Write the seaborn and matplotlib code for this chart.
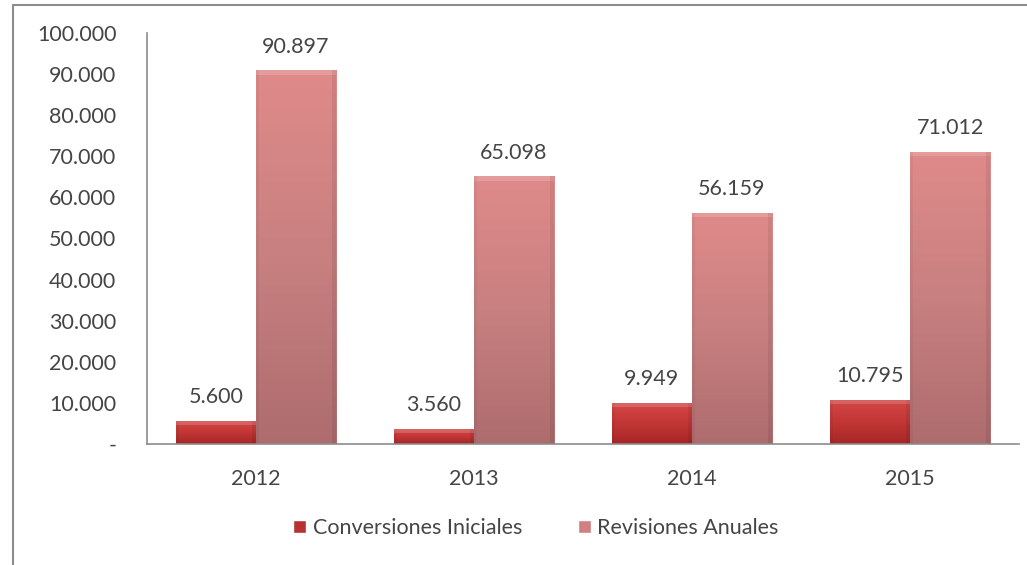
import numpy as np
import pandas as pd
import matplotlib
matplotlib.use("Agg")
import matplotlib.pyplot as plt
import seaborn as sns
from matplotlib.colors import LinearSegmentedColormap
from matplotlib.patches import Rectangle

years = ["2012", "2013", "2014", "2015"]
conversiones = [5600, 3560, 9949, 10795]
revisiones = [90897, 65098, 56159, 71012]
series_names = ["Conversiones Iniciales", "Revisiones Anuales"]
ytick_values = list(range(0, 100001, 10000))

df = pd.DataFrame({
    "year": years * 2,
    "value": conversiones + revisiones,
    "serie": [series_names[0]] * 4 + [series_names[1]] * 4,
})

sns.set_theme(style="white")
plt.rcParams["font.family"] = ["Lato", "DejaVu Sans"]

fig = plt.figure(figsize=(10.27, 5.65), dpi=100)
ax = fig.add_axes([147 / 1027, 1 - 444 / 565, (1019 - 147) / 1027, (444 - 33) / 565])

palette = {series_names[0]: "#c03434", series_names[1]: "#d08080"}
sns.barplot(data=df, x="year", y="value", hue="serie", palette=palette,
            width=0.734, ax=ax, legend=False, saturation=1, linewidth=0)

# vertical gradients for each series
grads = {
    series_names[0]: LinearSegmentedColormap.from_list("g0", ["#a82626", "#c23636", "#d44848"]),
    series_names[1]: LinearSegmentedColormap.from_list("g1", ["#ae6c6e", "#c88080", "#e08a8a"]),
}
ordered = [series_names[0]] * 4 + [series_names[1]] * 4
for patch, name in zip(ax.patches, ordered):
    x0, y0 = patch.get_x(), patch.get_y()
    w, h = patch.get_width(), patch.get_height()
    z = patch.get_zorder()
    grad = np.linspace(0, 1, 256).reshape(-1, 1)
    im = ax.imshow(grad, cmap=grads[name], origin="lower", aspect="auto",
                   extent=[x0, x0 + w, y0, y0 + h], zorder=z + 0.1)
    im.set_clip_path(patch)
    # soft bevel: light rim along the top, darker rim on the sides
    ax.add_patch(Rectangle((x0, y0 + h - 1000), w, 1000,
                           facecolor="white", alpha=0.16, linewidth=0, zorder=z + 0.2))
    ax.add_patch(Rectangle((x0 + w * 0.95, y0), w * 0.05, h,
                           facecolor="black", alpha=0.07, linewidth=0, zorder=z + 0.2))
    ax.add_patch(Rectangle((x0, y0), w * 0.04, h,
                           facecolor="black", alpha=0.04, linewidth=0, zorder=z + 0.2))

ax.set_xlim(-0.5, 3.5)
ax.set_ylim(0, 100000)
ax.set_xlabel("")
ax.set_ylabel("")

txt = "#454545"
fs = 15.5
ax.set_yticks(ytick_values)
ax.set_yticklabels(["-" if v == 0 else f"{v:,}".replace(",", ".") for v in ytick_values],
                   fontsize=fs, color=txt)
ax.tick_params(axis="y", length=0, pad=22)
ax.tick_params(axis="x", length=0, pad=18, labelsize=fs, labelcolor=txt)

for s in ["top", "right"]:
    ax.spines[s].set_visible(False)
for s in ["left", "bottom"]:
    ax.spines[s].set_color("#8c8c8c")
    ax.spines[s].set_linewidth(1.2)

# value labels above bars
for patch, val in zip(ax.patches[:8], conversiones + revisiones):
    xc = patch.get_x() + patch.get_width() / 2
    ax.annotate(f"{val:,}".replace(",", "."), (xc, patch.get_height()),
                xytext=(0, 10), textcoords="offset points",
                ha="center", va="bottom", fontsize=fs, color=txt)

# legend
handles = [Rectangle((0, 0), 1, 1, facecolor="#b83030"),
           Rectangle((0, 0), 1, 1, facecolor="#d08080")]
fig.legend(handles, series_names, loc="center", bbox_to_anchor=(536 / 1027, 1 - 528 / 565),
           ncol=2, frameon=False, fontsize=fs, handlelength=0.6, handleheight=0.6,
           handletextpad=0.3, columnspacing=2.6, labelcolor=txt)

# outer frame
fig.add_artist(Rectangle((13 / 1027, -0.05), 1.2, (1 - 5 / 565) + 0.05,
                         transform=fig.transFigure, fill=False,
                         edgecolor="#8c8c8c", linewidth=1.5))

fig.savefig("out.png", dpi=100)
